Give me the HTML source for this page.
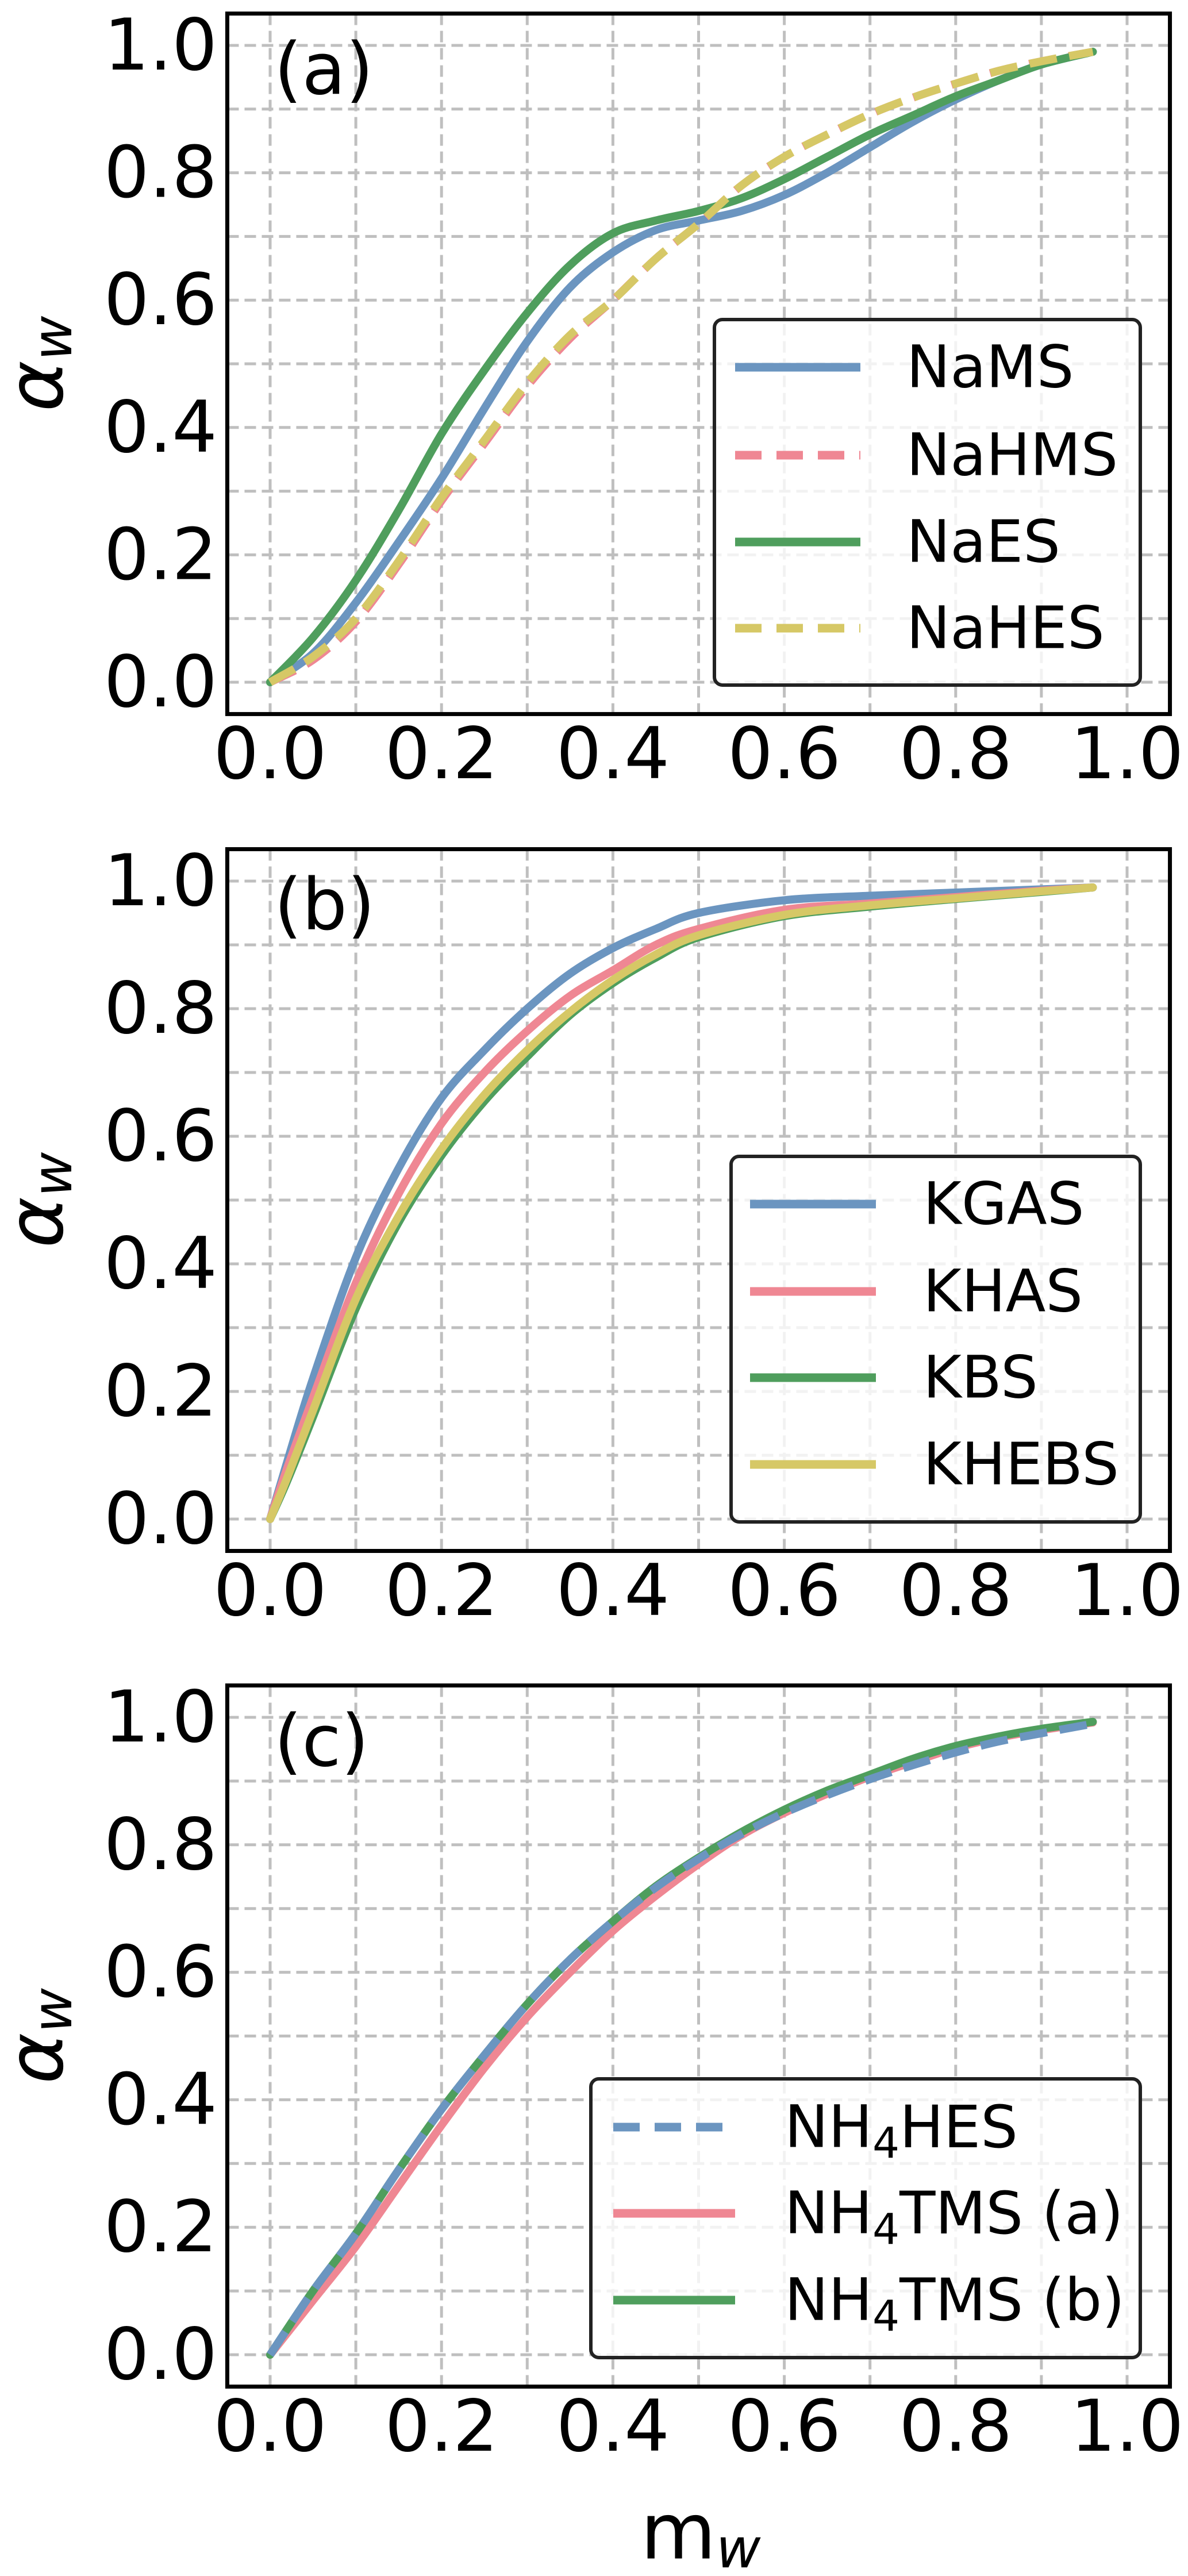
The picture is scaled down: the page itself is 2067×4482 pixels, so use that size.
<!DOCTYPE html>
<html><head><meta charset="utf-8"><style>
html,body{margin:0;padding:0;background:#fff;}
svg{display:block;}
text{font-family:"DejaVu Sans","Liberation Sans",sans-serif;fill:#000;}
</style></head><body>
<svg id="fig" width="2067" height="4482" viewBox="0 0 2067 4482" xmlns="http://www.w3.org/2000/svg"></svg>
<script>
// ---- data ----
const xA = [0,0.05,0.1,0.15,0.2,0.25,0.3,0.35,0.4,0.45,0.5,0.55,0.6,0.65,0.7,0.75,0.8,0.85,0.9,0.96];
const naMS  = [0,0.045,0.125,0.22,0.32,0.43,0.535,0.62,0.675,0.71,0.725,0.74,0.765,0.80,0.84,0.88,0.915,0.945,0.97,0.99];
const naHMS = [0,0.035,0.095,0.185,0.285,0.375,0.465,0.54,0.60,0.665,0.72,0.78,0.825,0.86,0.892,0.918,0.94,0.96,0.975,0.99];
const naES  = [0,0.07,0.16,0.27,0.39,0.49,0.58,0.655,0.705,0.725,0.74,0.76,0.79,0.825,0.86,0.89,0.92,0.945,0.97,0.99];
const naHES = [0,0.04,0.10,0.19,0.29,0.38,0.47,0.545,0.60,0.665,0.72,0.78,0.825,0.86,0.892,0.918,0.94,0.96,0.975,0.99];

const xB = [0,0.02,0.05,0.1,0.15,0.2,0.25,0.3,0.35,0.4,0.45,0.5,0.6,0.7,0.8,0.9,0.96];
const kGAS  = [0,0.09,0.22,0.41,0.55,0.66,0.735,0.80,0.855,0.895,0.925,0.95,0.97,0.977,0.982,0.987,0.99];
const kHAS  = [0,0.08,0.19,0.37,0.51,0.62,0.70,0.765,0.82,0.86,0.90,0.925,0.955,0.965,0.975,0.985,0.99];
const kBS   = [0,0.06,0.16,0.33,0.465,0.57,0.655,0.725,0.79,0.84,0.88,0.912,0.945,0.96,0.972,0.983,0.99];
const kHEBS = [0,0.065,0.17,0.345,0.475,0.58,0.665,0.735,0.795,0.845,0.885,0.915,0.947,0.962,0.973,0.984,0.99];

const xC = [0,0.05,0.1,0.15,0.2,0.25,0.3,0.35,0.4,0.45,0.5,0.55,0.6,0.65,0.7,0.75,0.8,0.85,0.9,0.96];
const nh4HES = [0,0.10,0.19,0.29,0.385,0.47,0.55,0.62,0.68,0.733,0.778,0.817,0.85,0.878,0.903,0.925,0.945,0.962,0.975,0.99];
const nh4TMSa= [0,0.085,0.17,0.265,0.36,0.45,0.53,0.60,0.665,0.72,0.77,0.815,0.85,0.88,0.907,0.93,0.952,0.968,0.98,0.992];
const nh4TMSb= [0,0.10,0.19,0.29,0.385,0.47,0.55,0.62,0.68,0.735,0.78,0.82,0.855,0.885,0.91,0.935,0.955,0.97,0.982,0.993];

const tickVals = [0,0.2,0.4,0.6,0.8,1.0];
const tickLabels = ["0.0","0.2","0.4","0.6","0.8","1.0"];

const C = {blue:"#6b95c0", pink:"#ef8793", green:"#4f9e5d", yellow:"#d6c866"};

const panels = [
  {id:"a", label:"(a)", y0:1187, y1:79, xs:xA,
   series:[{n:"NaMS",v:naMS,c:C.blue,d:false},{n:"NaHMS",v:naHMS,c:C.pink,d:true},{n:"NaES",v:naES,c:C.green,d:false},{n:"NaHES",v:naHES,c:C.yellow,d:true}],
   leg:{x:1243,y:556,w:741,h:636,lx1:1279,lx2:1497,tx:1577,rows:[639,792,943,1093]}},
  {id:"b", label:"(b)", y0:2643, y1:1533, xs:xB,
   series:[{n:"KGAS",v:kGAS,c:C.blue,d:false},{n:"KHAS",v:kHAS,c:C.pink,d:false},{n:"KBS",v:kBS,c:C.green,d:false},{n:"KHEBS",v:kHEBS,c:C.yellow,d:false}],
   leg:{x:1272,y:2012,w:712,h:636,lx1:1305,lx2:1524,tx:1606,rows:[2095,2247,2397,2548]}},
  {id:"c", label:"(c)", y0:4097, y1:2988, xs:xC,
   series:[{n:"NH4TMS (a)",v:nh4TMSa,c:C.pink,d:false,row:1},{n:"NH4TMS (b)",v:nh4TMSb,c:C.green,d:false,row:2},{n:"NH4HES",v:nh4HES,c:C.blue,d:true,row:0}],
   leg:{x:1028,y:3617,w:956,h:485,lx1:1067,lx2:1279,tx:1365,rows:[3701,3851,4002]}}
];

const NS="http://www.w3.org/2000/svg";
const svg=document.getElementById('fig');
function mk(tag,attrs,parent){const e=document.createElementNS(NS,tag);for(const k in attrs)e.setAttribute(k,attrs[k]);(parent||svg).appendChild(e);return e;}
const X0=470, X1=1961;
function sx(v){return X0+(X1-X0)*v;}
function smooth(P){
  let d='M'+P[0][0].toFixed(1)+','+P[0][1].toFixed(1);
  for(let i=0;i<P.length-1;i++){
    const p0=P[Math.max(i-1,0)],p1=P[i],p2=P[i+1],p3=P[Math.min(i+2,P.length-1)];
    const c1=[p1[0]+(p2[0]-p0[0])/6,p1[1]+(p2[1]-p0[1])/6];
    const c2=[p2[0]-(p3[0]-p1[0])/6,p2[1]-(p3[1]-p1[1])/6];
    d+=' C'+c1[0].toFixed(1)+','+c1[1].toFixed(1)+' '+c2[0].toFixed(1)+','+c2[1].toFixed(1)+' '+p2[0].toFixed(1)+','+p2[1].toFixed(1);
  }
  return d;
}

panels.forEach(p=>{
  const sy=v=>p.y0+(p.y1-p.y0)*v;
  const g=mk('g',{});
  
  
  const top=sy(1.05), bot=sy(-0.05), left=sx(-0.05), right=sx(1.05);
  const grid=mk('g',{},g);
  
  
  for(let i=0;i<=10;i++){
    const v=i/10;
    mk('line',{x1:sx(v),x2:sx(v),y1:top,y2:bot,stroke:"#bfbfbf","stroke-width":5,"stroke-dasharray":"20 10"},grid);
    mk('line',{x1:left,x2:right,y1:sy(v),y2:sy(v),stroke:"#bfbfbf","stroke-width":5,"stroke-dasharray":"20 10"},grid);
  }
  p.series.forEach(s=>{
    const P=p.xs.map((x,i)=>[sx(x),sy(s.v[i])]);
    const pl=mk('path',{d:smooth(P),fill:"none",stroke:s.c,"stroke-width":14,"stroke-linejoin":"round","stroke-linecap":s.d?"butt":"round"},g);
    if(s.d) pl.setAttribute('stroke-dasharray','48 22');
    
    
  });
  const fr=mk('rect',{x:left,y:top,width:right-left,height:bot-top,fill:"none",stroke:"#000","stroke-width":7},g);
  
  
  tickVals.forEach((v,i)=>{
    const ty=mk('text',{x:378,y:sy(v),"font-size":124,"text-anchor":"end","dominant-baseline":"central"},g);
    ty.textContent=tickLabels[i];
    
    
    const tx=mk('text',{x:sx(v),y:p.y0+125,"font-size":124,"text-anchor":"middle","dominant-baseline":"central"},g);
    tx.textContent=tickLabels[i];
    
    
  });
  const yl=mk('text',{x:0,y:0,"font-size":135,"text-anchor":"middle","dominant-baseline":"central","font-style":"italic",transform:`translate(62,${(top+bot)/2}) rotate(-90)`},g);
  yl.innerHTML='α<tspan font-size="95" dy="30">w</tspan>';
  
  
  const pl=mk('text',{x:477,y:p.y1+42,"font-size":124,"dominant-baseline":"central"},g);
  pl.textContent=p.label;
  
  
  const L=p.leg;
  const lg=mk('g',{},g);
  
  
  mk('rect',{x:L.x,y:L.y,width:L.w,height:L.h,rx:14,fill:"#fff","fill-opacity":0.8,stroke:"#222","stroke-width":6},lg);
  p.series.forEach((s,i)=>{
    const row=(s.row!==undefined)? L.rows[s.row]: L.rows[i];
    const ll=mk('line',{x1:L.lx1,x2:L.lx2,y1:row,y2:row,stroke:s.c,"stroke-width":15},lg);
    if(s.d) ll.setAttribute('stroke-dasharray','46 26');
    
    
    const t=mk('text',{x:L.tx,y:row,"font-size":102,"dominant-baseline":"central"},lg);
    if(s.n.startsWith('NH4')){
      t.innerHTML='NH<tspan font-size="74" dy="28">4</tspan><tspan dy="-28">'+s.n.slice(3)+'</tspan>';
    } else t.textContent=s.n;
    
    
  });
});
const xt=mk('text',{x:1219,y:4405,"font-size":135,"text-anchor":"middle","dominant-baseline":"central"});
xt.innerHTML='m<tspan font-size="95" dy="30" font-style="italic">w</tspan>';


</script>
</body></html>
